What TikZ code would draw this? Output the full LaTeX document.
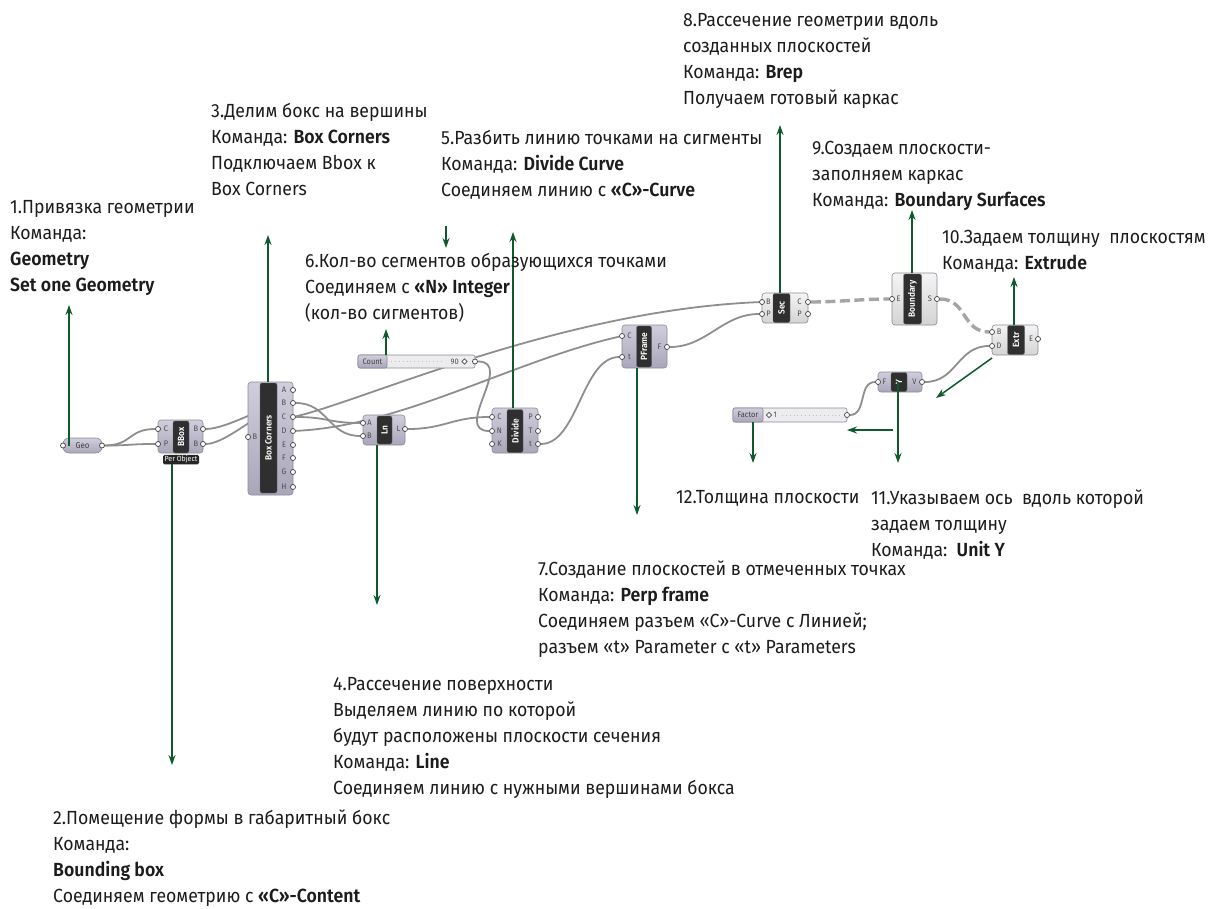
\documentclass[tikz,border=0pt]{standalone}
\usepackage{fontspec}
\setmainfont{Fira Sans}[BoldFont=* SemiBold, FakeStretch=0.93]
\usetikzlibrary{arrows.meta}
\pgfdeclarelayer{wires}
\pgfsetlayers{wires,main}
\definecolor{leaf}{HTML}{0E5A2C}
\definecolor{wiregray}{HTML}{8E8E8E}
\definecolor{lavtop}{HTML}{D0CEDC}
\definecolor{lavbot}{HTML}{A9A6BA}
\definecolor{paletop}{HTML}{F4F4F4}
\definecolor{palebot}{HTML}{D4D4D4}
\definecolor{edgegray}{HTML}{8B8999}
\definecolor{barfill}{HTML}{2F2F2F}
\definecolor{slidefill}{HTML}{ECECEE}
\definecolor{inkgray}{HTML}{1C1C1C}

\tikzset{
  note/.style={anchor=north west, inner sep=0, align=left, text=inkgray, font=\fontsize{19}{26}\selectfont},
  ptr/.style={draw=leaf, line width=1.5, -{Stealth[length=10,width=7]}},
  wire/.style={draw=wiregray, line width=1.8},
  dwire/.style={draw=wiregray!80, line width=3.4, dash pattern=on 10 off 4.5},
  comp/.style={draw=edgegray, line width=0.6, rounded corners=3, top color=lavtop, bottom color=lavbot, inner sep=0},
  pale/.style={comp, top color=paletop, bottom color=palebot},
  bar/.style={draw=black!60, fill=barfill, rounded corners=2, rotate=90, inner sep=0, text=white, font=\fontsize{9}{9}\selectfont\bfseries},
  port/.style={circle, draw=black!75, fill=white, inner sep=0, minimum size=5, line width=0.7},
  plab/.style={inner sep=0, text=black!70, font=\fontsize{8}{8}\selectfont},
  slider/.style={draw=edgegray, line width=0.6, rounded corners=2, fill=slidefill, inner sep=0},
  grip/.style={draw=black!70, fill=white, rotate=45, minimum size=3.8, inner sep=0, line width=0.7},
}

\begin{document}
\begin{tikzpicture}[x=1pt, y=-1pt]
\useasboundingbox (0,0) rectangle (1217,909);

% ---------- Geometry parameter ----------
\node[comp, rounded corners=6, minimum width=39, minimum height=15, font=\fontsize{8.5}{8.5}\selectfont, text=black!75] (geo) at (82.5,445.5) {Geo};
\node[port] (geoI) at (63,445.5) {};
\node[port] (geoO) at (102,445.5) {};

% ---------- Bounding box ----------
\node[comp, minimum width=45, minimum height=33] (bb) at (180.5,436.5) {};
\node[bar, minimum width=32, minimum height=16] (bbbar) at (181,437) {BBox};
\node[port] (bbC) at (158,429) {};
\node[port] (bbP) at (158,444) {};
\node[port] (bbB1) at (203,429) {};
\node[port] (bbB2) at (203,444) {};
\node[plab] (bbCl) at (166,429) {C};
\node[plab] (bbPl) at (166,444) {P};
\node[plab] (bbB1l) at (196,429) {B};
\node[plab] (bbB2l) at (196,444) {B};
\node[fill=black!85, rounded corners=1.5, text=white, font=\fontsize{7.5}{8}\selectfont, inner sep=0.8, minimum width=36, minimum height=9.5] (perobj) at (181,459.5) {Per Object};

% ---------- Box corners ----------
\node[comp, minimum width=45, minimum height=113] (bc) at (270.5,438.5) {};
\node[bar, minimum width=110, minimum height=17] (bcbar) at (268.5,438) {Box Corners};
\node[port] (bcB) at (248,437) {};
\node[plab] (bcBl) at (255,437) {B};
\foreach \p/\y in {A/390,B/403,C/417,D/431,E/445,F/458,G/472,H/487}{
  \node[port] (bc\p) at (293,\y) {};
  \node[plab] (bc\p l) at (284,\y) {\p};
}

% ---------- Line ----------
\node[comp, minimum width=42, minimum height=30] (ln) at (384,430) {};
\node[bar, minimum width=28, minimum height=15] (lnbar) at (384.5,430) {Ln};
\node[port] (lnA) at (363,423) {};
\node[port] (lnB) at (363,436) {};
\node[port] (lnL) at (405,429) {};
\node[plab] (lnAl) at (369.5,423) {A};
\node[plab] (lnBl) at (369.5,436) {B};
\node[plab] (lnLl) at (398.5,429) {L};

% ---------- Count slider ----------
\node[slider, minimum width=117, minimum height=13] (count) at (416.5,361.5) {};
\node[comp, rounded corners=2, minimum width=29, minimum height=13, anchor=west, font=\fontsize{8}{8}\selectfont, text=black!75] (countlab) at (count.west) {Count};
\draw[black!25, line width=0.5, dash pattern=on 0.6 off 3.2] (countlab.east) ++(4,0) coordinate (cticks) -- ([xshift=-32]count.east);
\node[plab, anchor=east] (countval) at (459,361.5) {90};
\node[grip] (countgrip) at (464.5,361.5) {};
\node[port] (countO) at (475,361.5) {};

% ---------- Divide curve ----------
\node[comp, minimum width=46, minimum height=45] (div) at (515,430.5) {};
\node[bar, minimum width=43, minimum height=16] (divbar) at (515,431) {Divide};
\foreach \p/\q/\y in {C/P/417,N/T/431,K/t/444}{
  \node[port] (div\p) at (492,\y) {};
  \node[plab] (div\p l) at (499.5,\y) {\p};
  \node[port] (divo\q) at (538,\y) {};
  \node[plab] (divo\q l) at (530.5,\y) {\q};
}

% ---------- Perp frames ----------
\node[comp, minimum width=45, minimum height=43] (pf) at (644.5,346.5) {};
\node[bar, minimum width=41, minimum height=15] (pfbar) at (644,346.5) {PFrame};
\node[port] (pfC) at (622,336) {};
\node[port] (pft) at (622,357) {};
\node[port] (pfF) at (667,347) {};
\node[plab] (pfCl) at (629.5,336) {C};
\node[plab] (pftl) at (629.5,357) {t};
\node[plab] (pfFl) at (659.5,347) {F};

% ---------- Brep | Plane section ----------
\node[pale, minimum width=46, minimum height=30] (sec) at (785,308) {};
\node[bar, minimum width=29, minimum height=17] (secbar) at (781.5,308) {Sec};
\node[port] (secB) at (762,302) {};
\node[port] (secP) at (762,314) {};
\node[port] (secC) at (808,302) {};
\node[port] (secPo) at (808,314) {};
\node[plab] (secBl) at (768.5,302) {B};
\node[plab] (secPl) at (768.5,314) {P};
\node[plab] (secCl) at (799.5,302) {C};
\node[plab] (secPol) at (799.5,314) {P};

% ---------- Boundary surfaces ----------
\node[pale, minimum width=45, minimum height=52] (bnd) at (914.5,299) {};
\node[bar, minimum width=50, minimum height=18] (bndbar) at (912.5,299) {Boundary};
\node[port] (bndE) at (892,299) {};
\node[port] (bndS) at (937,299) {};
\node[plab] (bndEl) at (898.5,299) {E};
\node[plab] (bndSl) at (930,299) {S};

% ---------- Extrude ----------
\node[pale, minimum width=46, minimum height=30] (ex) at (1015,340) {};
\node[bar, minimum width=29, minimum height=17] (exbar) at (1016,340) {Extr};
\node[port] (exB) at (992,332) {};
\node[port] (exD) at (992,346) {};
\node[port] (exE) at (1038,339) {};
\node[plab] (exBl) at (999,332) {B};
\node[plab] (exDl) at (999,346) {D};
\node[plab] (exEl) at (1031,339) {E};

% ---------- Unit Y ----------
\node[comp, minimum width=44, minimum height=20] (uy) at (900,382) {};
\node[bar, minimum width=19, minimum height=16] (uybar) at (899,382) {Y};
\node[port] (uyF) at (878,382) {};
\node[port] (uyV) at (922,382) {};
\node[plab] (uyFl) at (884.5,382) {F};
\node[plab] (uyVl) at (914.5,382) {V};

% ---------- Factor slider ----------
\node[slider, minimum width=114, minimum height=14] (fac) at (790,415) {};
\node[comp, rounded corners=2, minimum width=30, minimum height=14, anchor=west, font=\fontsize{8}{8}\selectfont, text=black!75] (faclab) at (fac.west) {Factor};
\node[grip] (facgrip) at (769,415) {};
\node[plab, anchor=west] (facval) at (773.5,415) {1};
\draw[black!25, line width=0.5, dash pattern=on 0.6 off 3.2] (facval.east) ++(5,0) coordinate (fticks) -- ([xshift=-6]fac.east);
\node[port] (facO) at (847,415) {};

% ---------- wires ----------
\begin{pgfonlayer}{wires}
\draw[wire] (geoO) .. controls +(30,0) and +(-30,0) .. (bbC);
\draw[wire] (geoO) .. controls +(30,0) and +(-30,0) .. (bbP);
\draw[wire] (bbB1) .. controls +(25,0) and +(-25,0) .. (bcB);
\draw[wire] (bbB2) .. controls +(25,0) and +(-25,0) .. (bcB);
\draw[wire] (bcB) .. controls +(35,0) and +(-35,0) .. (lnB);
\draw[wire] (bcC) .. controls +(35,0) and +(-35,0) .. (lnA);
\draw[wire] (bcC) .. controls +(70,-16) and +(-200,8) .. (secB);
\draw[wire] (bcD) .. controls +(110,-5) and +(-110,25) .. (pfC);
\draw[wire] (lnL) .. controls +(40,0) and +(-40,0) .. (divC);
\draw[wire] (countO) .. controls +(40,0) and +(-40,0) .. (divN);
\draw[wire] (divot) .. controls +(40,0) and +(-40,0) .. (pft);
\draw[wire] (pfF) .. controls +(40,0) and +(-40,0) .. (secP);
\draw[dwire] (secC) .. controls +(30,0) and +(-30,0) .. (bndE);
\draw[dwire] (bndS) .. controls +(30,0) and +(-30,0) .. (exB);
\draw[wire] (uyV) .. controls +(35,0) and +(-35,0) .. (exD);
\draw[wire] (facO) .. controls +(20,0) and +(-20,0) .. (uyF);
\end{pgfonlayer}

% ---------- pointer arrows ----------
\coordinate (t1) at (69,305);
\coordinate (t2) at (172,765);
\coordinate (t3) at (268,235);
\coordinate (t4) at (377,605);
\coordinate (t5) at (513,232);
\coordinate (s5a) at (446,226);
\coordinate (s5b) at (446,248);
\coordinate (t6) at (386,329);
\coordinate (t7) at (637,515);
\coordinate (t8) at (780,125);
\coordinate (t9) at (912,210);
\coordinate (t10) at (1014,277);
\coordinate (t11) at (898,463);
\coordinate (t12) at (753,463);
\coordinate (h13a) at (893,430);
\coordinate (h13b) at (847,430);
\coordinate (d14a) at (992,358);
\coordinate (d14b) at (936,398);
\draw[ptr] (geo.center -| t1) -- (t1);
\draw[ptr] (perobj.south -| t2) -- (t2);
\draw[ptr] (bc.north -| t3) -- (t3);
\draw[ptr] (ln.south -| t4) -- (t4);
\draw[ptr] (div.north -| t5) -- (t5);
\draw[ptr] (s5a) -- (s5b);
\draw[ptr] (count.north -| t6) -- (t6);
\draw[ptr] (pf.south -| t7) -- (t7);
\draw[ptr] (sec.north -| t8) -- (t8);
\draw[ptr] (bnd.north -| t9) -- (t9);
\draw[ptr] (ex.north -| t10) -- (t10);
\draw[ptr] (uy.center -| t11) -- (t11);
\draw[ptr] (fac.south -| t12) -- (t12);
\draw[ptr] (h13a) -- (h13b);
\draw[ptr] (d14a) -- (d14b);

% ---------- annotations ----------
\node[note] (n1) at (10,200) {1.Привязка геометрии\\Команда:\\\textbf{Geometry}\\\textbf{Set one Geometry}};
\node[note] (n2) at (53,810) {2.Помещение формы в габаритный бокс\\Команда:\\\textbf{Bounding box}\\Соединяем геометрию с \textbf{«C»-Content}};
\node[note] (n3) at (211,103) {3.Делим бокс на вершины\\Команда: \textbf{Box Corners}\\Подключаем Bbox к\\Box Corners};
\node[note] (n4) at (333,677) {4.Рассечение поверхности\\Выделяем линию по которой\\будут расположены плоскости сечения\\Команда: \textbf{Line}\\Соединяем линию с нужными вершинами бокса};
\node[note] (n5) at (441,130) {5.Разбить линию точками на сигменты\\Команда: \textbf{Divide Curve}\\Соединяем линию с \textbf{«C»-Curve}};
\node[note] (n6) at (305,253) {6.Кол-во сегментов образующихся точками\\Соединяем с \textbf{«N» Integer}\\(кол-во сигментов)};
\node[note] (n7) at (538,561) {7.Создание плоскостей в отмеченных точках\\Команда: \textbf{Perp frame}\\Соединяем разъем «C»-Curve с Линией;\\разъем «t» Parameter с «t» Parameters};
\node[note] (n8) at (683,13) {8.Рассечение геометрии вдоль\\созданных плоскостей\\Команда: \textbf{Brep}\\Получаем готовый каркас};
\node[note] (n9) at (812,141) {9.Создаем плоскости-\\заполняем каркас\\Команда: \textbf{Boundary Surfaces}};
\node[note] (n10) at (942,230) {10.Задаем толщину\ \ плоскостям\\Команда: \textbf{Extrude}};
\node[note] (n11) at (871,490) {11.Указываем ось\ \ вдоль которой\\задаем толщину\\Команда:\ \ \textbf{Unit Y}};
\node[note] (n12) at (676,490) {12.Толщина плоскости};
\end{tikzpicture}
\end{document}
